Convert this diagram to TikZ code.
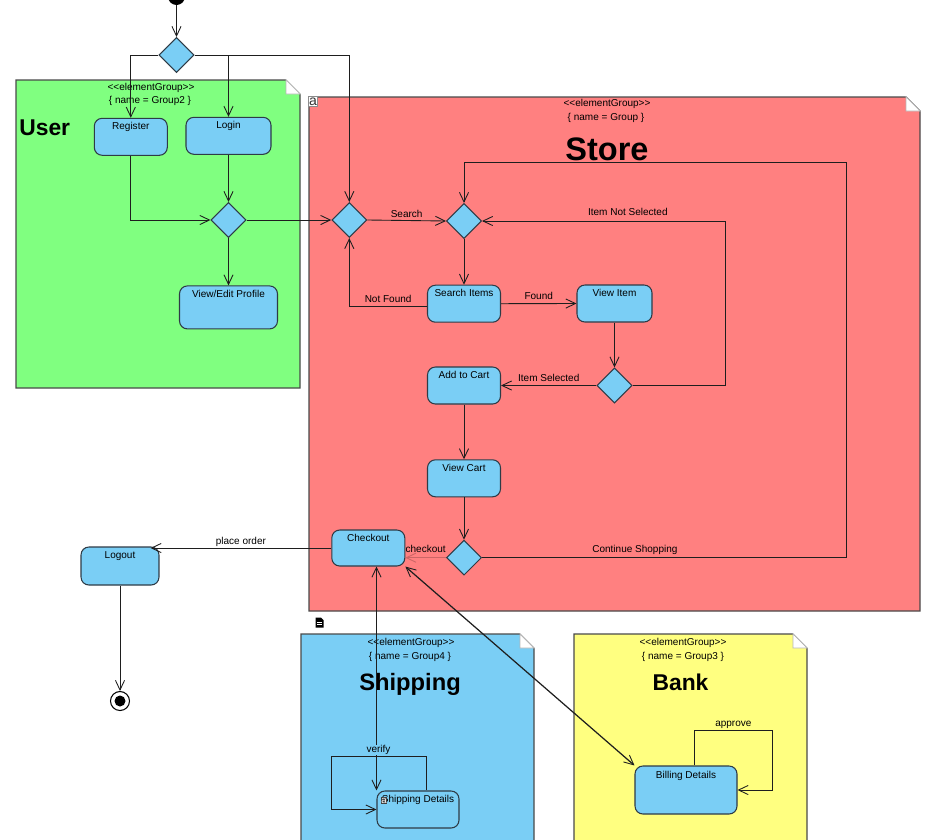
\documentclass[tikz,border=0pt]{standalone}
\usepackage{fontspec}
\setmainfont{Liberation Sans}
\usetikzlibrary{arrows.meta,calc,positioning,shapes.geometric}

\definecolor{usergreen}{HTML}{80FF80}
\definecolor{storered}{HTML}{FF8080}
\definecolor{shipblue}{RGB}{122,206,245}
\definecolor{bankyellow}{HTML}{FFFF80}
\definecolor{actfill}{RGB}{122,206,245}
\definecolor{actline}{HTML}{2E3B46}
\definecolor{grpline}{HTML}{4A4A4A}
\definecolor{flowline}{HTML}{1E1E1E}
\colorlet{faintline}{storered!80!black}

\newcommand{\tinyfont}{\fontsize{5.7}{6.8}\selectfont}
% element group: fill, left, top, right, bottom (in px units)
\newcommand{\elemgroup}[5]{%
	\filldraw[fill=#1, draw=grpline, line width=0.6pt] (#2,#3) -- (#4-14,#3) -- (#4,#3+14) -- (#4,#5) -- (#2,#5) -- cycle;
	\filldraw[fill=white, draw=grpline!40, line width=0.4pt] (#4-14,#3) -- (#4-14,#3+14) -- (#4,#3+14) -- cycle;
}

\tikzset{
	>={Straight Barb[length=5.5pt,width=5.2pt,line width=0.5pt]},
	act/.style={draw=actline, fill=actfill, line width=0.6pt, rounded corners=4.5pt,
		minimum width=1.46cm, minimum height=0.74cm, inner sep=0pt},
	actname/.style={font=\tinyfont, inner sep=0pt, text height=4.2pt, text depth=1.2pt},
	diam/.style={diamond, draw=actline, fill=actfill, line width=0.6pt,
		minimum width=0.7cm, minimum height=0.7cm, inner sep=0pt},
	grptext/.style={font=\tinyfont, inner sep=0pt, text height=4.2pt, text depth=1.2pt},
	grptitle/.style={font=\fontsize{13}{15}\selectfont\bfseries, inner sep=0pt, anchor=base},
	elabel/.style={font=\tinyfont, inner sep=0pt, text height=4.2pt, text depth=1.2pt, above=1pt},
	flow/.style={draw=flowline, line width=0.5pt, ->},
	both/.style={draw=flowline, line width=0.5pt, <->},
	startnode/.style={circle, fill=black, minimum size=0.34cm, inner sep=0pt},
	endnode/.style={circle, draw=black, fill=white, line width=0.6pt, minimum size=0.38cm, inner sep=0pt,
		path picture={\fill[black] (path picture bounding box.center) circle (0.11cm);}},
	iconbox/.style={draw=black!45, fill=white, inner sep=0pt, minimum width=0.18cm, minimum height=0.2cm,
		font=\fontsize{8}{8}\selectfont, text=black!80},
	darkicon/.style={fill=black!75, text=white, inner sep=0pt, minimum width=0.1cm, minimum height=0.15cm,
		font=\fontsize{5.5}{5.5}\selectfont}
}

\begin{document}
\begin{tikzpicture}[x=0.02cm, y=-0.02cm]
	\useasboundingbox (0,0) rectangle (932,839);
	\clip (0,0) rectangle (932,839);

	% groups
	\elemgroup{usergreen}{16}{80}{300}{388}
	\elemgroup{storered}{309}{97}{920}{611}
	\elemgroup{shipblue}{301}{634}{534}{860}
	\elemgroup{bankyellow}{574}{634}{807}{860}

	\node[grptext] (userstereo) at (151,88) {<\kern0pt<elementGroup>\kern0pt>};
	\node[grptext] (usergname) at (150,101) {\{ name = Group2 \}};
	\node[grptitle, anchor=base west] (usertitle) at (19,135) {User};

	\node[grptext] (storestereo) at (607,104.3) {<\kern0pt<elementGroup>\kern0pt>};
	\node[grptext] (storegname) at (606,118.3) {\{ name = Group \}};
	\node[grptitle, font=\fontsize{18.5}{20}\selectfont\bfseries] (storetitle) at (607,160.7) {Store};
	\node[iconbox] (storeicon) at (313,101.5) {a};
	\fill[black] (315.5,617.5) -- (321,617.5) -- (323.5,620) -- (323.5,627.5) -- (315.5,627.5) -- cycle;
	\draw[white, line width=0.4pt] (317,622.5) -- (322,622.5) (317,624.7) -- (322,624.7);

	\node[grptext] (shipstereo) at (411,642.7) {<\kern0pt<elementGroup>\kern0pt>};
	\node[grptext] (shipgname) at (410,657) {\{ name = Group4 \}};
	\node[grptitle, font=\fontsize{13.5}{15}\selectfont\bfseries] (shiptitle) at (410,690) {Shipping};

	\node[grptext] (bankstereo) at (683,643) {<\kern0pt<elementGroup>\kern0pt>};
	\node[grptext] (bankgname) at (683,657) {\{ name = Group3 \}};
	\node[grptitle] (banktitle) at (680.5,690) {Bank};

	% activities
	\node[startnode] (start) at (176.5,-3.5) {};
	\node[diam] (dA) at (176.5,55) {};

	\node[act] (register) at (130.8,136.8) {};
	\node[actname, below=2.5pt of register.north] (registername) {Register};
	\node[act, minimum width=1.7cm] (login) at (228.5,135.8) {};
	\node[actname, below=2.5pt of login.north] (loginname) {Login};
	\node[diam] (dB) at (228.5,220) {};
	\node[act, minimum width=1.96cm, minimum height=0.86cm] (profile) at (228.5,307.4) {};
	\node[actname, below=2.5pt of profile.north] (profilename) {View/Edit Profile};

	\node[diam] (dC) at (349.3,220) {};
	\node[diam] (dD) at (464,221) {};
	\node[act] (searchitems) at (464,303.7) {};
	\node[actname, below=2.5pt of searchitems.north] (searchitemsname) {Search Items};
	\node[act, minimum width=1.5cm] (viewitem) at (614.5,303.5) {};
	\node[actname, below=2.5pt of viewitem.north] (viewitemname) {View Item};
	\node[diam] (dE) at (614.5,385.5) {};
	\node[act] (addcart) at (464,385.5) {};
	\node[actname, below=2.5pt of addcart.north] (addcartname) {Add to Cart};
	\node[act] (viewcart) at (464,478.3) {};
	\node[actname, below=2.5pt of viewcart.north] (viewcartname) {View Cart};
	\node[diam] (dF) at (464,557.7) {};
	\node[act, minimum height=0.72cm] (checkout) at (368.3,548) {};
	\node[actname, below=2.5pt of checkout.north] (checkoutname) {Checkout};

	\node[act, minimum width=1.56cm, minimum height=0.76cm] (logout) at (120,566) {};
	\node[actname, below=2.5pt of logout.north] (logoutname) {Logout};
	\node[endnode] (end) at (120,701) {};

	\node[act, minimum width=1.64cm] (shipdet) at (418,809.5) {};
	\node[actname, below=2.5pt of shipdet.north] (shipdetname) {Shipping Details};
	\node[act, minimum width=2.04cm, minimum height=0.96cm] (billdet) at (686,790) {};
	\node[actname, below=3pt of billdet.north] (billdetname) {Billing Details};

	% bend points
	\coordinate (nsel) at (725,221);
	\coordinate (shop) at (846,162.7);
	\coordinate (lgtip) at ($(logout.north east)+(-9,0)$);
	\coordinate (vf0) at ($(shipdet.north)+(8,0)$);
	\coordinate (vf1) at (331,756);
	\coordinate (ap0) at ($(billdet.north)+(8,0)$);
	\coordinate (ap1) at (772.7,730);

	% flows
	\draw[flow] (start) -- (dA.north);
	\draw[flow] (dA.west) -| (register.north);
	\draw[flow] (dA.east) -| (login.north);
	\draw[flow] (dA.east) -| (dC.north);
	\draw[flow] (register.south) |- (dB.west);
	\draw[flow] (login.south) -- (dB.north);
	\draw[flow] (dB.south) -- (profile.north);
	\draw[flow] (dB.east) -- (dC.west);
	\draw[flow] (dC.east) -- node[elabel, above=0pt] (searchlbl) {Search} (dD.west);
	\draw[flow] ($(searchitems.west)+(0,3)$) -| node[elabel, pos=0.25] (notfoundlbl) {Not Found} (dC.south);
	\draw[flow] (dD.south) -- (searchitems.north);
	\draw[flow] (searchitems.east) -- node[elabel] (foundlbl) {Found} (viewitem.west);
	\draw[flow] (viewitem.south) -- (dE.north);
	\draw[flow] (dE.west) -- node[elabel] (selectedlbl) {Item Selected} (addcart.east);
	\draw[flow] (dE.east) -| (nsel) -- node[elabel, above=1.5pt, pos=0.4] (notsellbl) {Item Not Selected} (dD.east);
	\draw[flow] (addcart.south) -- (viewcart.north);
	\draw[flow] (viewcart.south) -- (dF.north);
	\draw[flow] (dF.east) -| node[elabel, above=1.8pt, pos=0.21] (shoplbl) {Continue Shopping} (shop) -| (dD.north);
	\draw[flow, draw=faintline] (dF.west) -- node[elabel, above=1.8pt] (checkoutlbl) {checkout} (dF.west -| checkout.east);
	\draw[flow] (checkout.west) -- node[elabel, above=0.5pt] (orderlbl) {place order} (checkout.west -| lgtip);
	\draw[flow] (logout.south) -- (end);

	\draw[both, line width=1pt] (checkout.south -| shipdet.north west) -- (shipdet.north west);
	\draw[flow] (vf0) |- node[elabel, above=0.5pt, pos=0.75, fill=shipblue] (verifylbl) {verify} (vf1) |- (shipdet.west);
	\draw[flow] (ap0) |- node[elabel, above=0.4pt, pos=0.75] (approvelbl) {approve} (ap1) |- (billdet.east);
	\draw[both, line width=0.7pt] (checkout.south east) -- (billdet.north west);

	\node[darkicon] (shipicon) at (384,800.5) {a};
\end{tikzpicture}
\end{document}
